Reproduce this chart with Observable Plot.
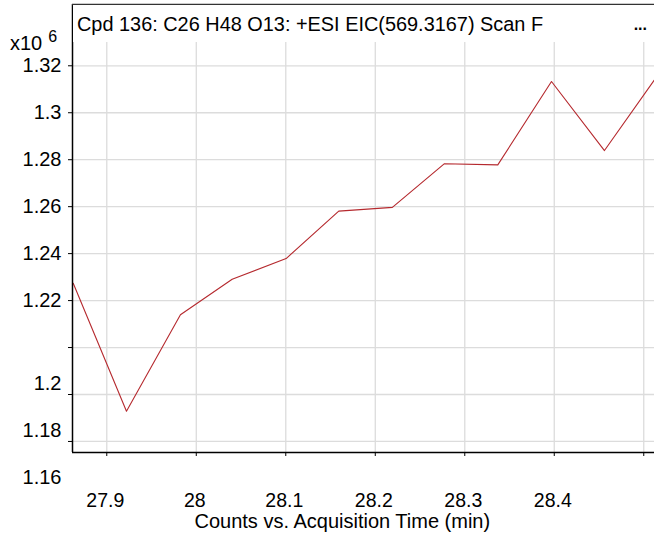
<!DOCTYPE html>
<html>
<head>
<meta charset="utf-8">
<script src="https://cdn.jsdelivr.net/npm/d3@7"></script>
<script src="https://cdn.jsdelivr.net/npm/@observablehq/plot@0.6"></script>
<style>
  html, body { margin: 0; padding: 0; background: #fff; }
  #wrap { position: relative; width: 654px; height: 536px; font-family: "Liberation Sans", Arial, sans-serif; color: #000; }
  #title { position: absolute; left: 73px; top: 5px; width: 581px; height: 37px; background: #fff; line-height: 37px; font-size: 19.9px; white-space: nowrap; padding-top: 1px; box-sizing: border-box; }
  #title .t { position: absolute; left: 4px; }
  #title .dots { position: absolute; right: 7px; font-size: 16px; font-weight: bold; }
  #mult { position: absolute; left: 10px; top: 33px; font-size: 20px; line-height: 20px; white-space: nowrap; }
  #mult sup { font-size: 16px; position: relative; top: -8px; vertical-align: baseline; margin-left: 6px; }
</style>
</head>
<body>
<div id="wrap"></div>
<script>
// Data (counts in units of 10^6)
const times  = [27.8625, 27.9220, 27.9823, 28.0401, 28.1004, 28.1592, 28.2191, 28.2773, 28.3369, 28.3969, 28.4561, 28.5156];
const counts = [1.2274, 1.1729, 1.2140, 1.2291, 1.2379, 1.2581, 1.2597, 1.2783, 1.2778, 1.3133, 1.2839, 1.3160];

const yGrid        = [1.16, 1.18, 1.2, 1.22, 1.24, 1.26, 1.28, 1.3, 1.32];
const yUpperLabels = [1.22, 1.24, 1.26, 1.28, 1.3, 1.32];
const yLowerLabels = [1.16, 1.18, 1.2];
const xTicks       = [27.9, 28, 28.1, 28.2, 28.3, 28.4, 28.5];
const xLabels      = [27.9, 28, 28.1, 28.2, 28.3, 28.4];
const xDomain      = [27.8617, 28.512];
const yDomain      = [1.1553, 1.3461];

const titleText = "Cpd 136: C26 H48 O13: +ESI EIC(569.3167) Scan F";
const xAxisTitle = "Counts vs. Acquisition Time (min)";

const data = times.map((t, i) => ({t, c: counts[i]}));
const fmt = d3.format("~g");

const chart = Plot.plot({
  width: 654,
  height: 536,
  marginLeft: 72,
  marginRight: 0,
  marginTop: 4,
  marginBottom: 84,
  style: { fontFamily: "'Liberation Sans', Arial, sans-serif", fontSize: "20px", color: "#000", background: "#fff" },
  x: { domain: xDomain, axis: null },
  y: { domain: yDomain, axis: null },
  marks: [
    Plot.ruleX(xTicks, { stroke: "#dcdcdc", strokeWidth: 1.3 }),
    Plot.ruleY(yGrid, { stroke: "#dcdcdc", strokeWidth: 1.3 }),
    Plot.line(data, { x: "t", y: "c", stroke: "#b5292e", strokeWidth: 1.1, clip: true }),
    Plot.ruleX([xDomain[0]], { stroke: "#000", strokeWidth: 1.5 }),
    Plot.ruleY([yDomain[0]], { stroke: "#000", strokeWidth: 1.5 }),
    Plot.ruleY([yDomain[1]], { stroke: "#333", strokeWidth: 1.5 }),
    Plot.axisY({ ticks: yGrid, tickSize: 4, tickFormat: () => "", stroke: "#000", label: null }),
    Plot.axisY({ ticks: yUpperLabels, tickSize: 0, tickPadding: 11, tickFormat: fmt, fontSize: 20, label: null }),
    Plot.axisY({ ticks: yLowerLabels, tickSize: 0, tickPadding: 11, dy: 36.5, tickFormat: fmt, fontSize: 20, label: null }),
    Plot.axisX({ ticks: xTicks, tickSize: 4, tickFormat: () => "", stroke: "#000", label: null }),
    Plot.axisX({ ticks: xLabels, tickSize: 0, tickPadding: 41, dx: -1.5, tickFormat: fmt, fontSize: 19.5, label: null }),
    Plot.text([xAxisTitle], { frameAnchor: "bottom-left", textAnchor: "start", lineAnchor: "bottom", dx: 122, dy: 75.5, fontSize: 20 })
  ]
});

const wrap = document.getElementById("wrap");
wrap.appendChild(chart);

const title = document.createElement("div");
title.id = "title";
title.innerHTML = `<span class="t"></span><span class="dots">...</span>`;
title.querySelector(".t").textContent = titleText;
wrap.appendChild(title);

const mult = document.createElement("div");
mult.id = "mult";
mult.innerHTML = "x10<sup>6</sup>";
wrap.appendChild(mult);
</script>
</body>
</html>
